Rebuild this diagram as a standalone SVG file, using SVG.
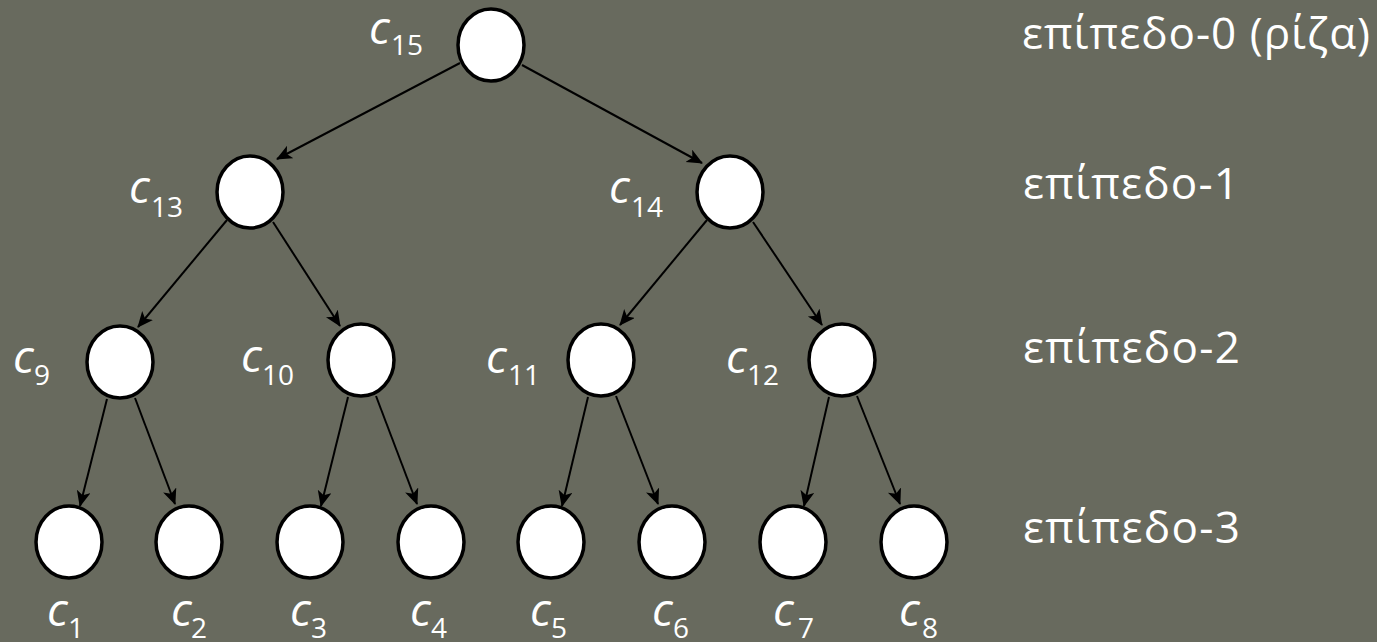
<svg xmlns="http://www.w3.org/2000/svg" width="1377" height="642" viewBox="0 0 1377 642">
<style>
.bg{fill:#686a5e}
.node{fill:#ffffff;stroke:#000000;stroke-width:3.5}
.edge{stroke:#000000;stroke-width:2;fill:none;marker-end:url(#arr)}
.c{font-family:"Open Sans","Liberation Sans",sans-serif;font-style:italic;font-size:46px;fill:#ffffff}
.s{font-family:"Open Sans","Liberation Sans",sans-serif;font-size:28px;fill:#ffffff}
.lvl{font-family:"Open Sans","Noto Sans","DejaVu Sans",sans-serif;font-size:44px;fill:#ffffff}
</style>
<defs>
<marker id="arr" markerUnits="userSpaceOnUse" markerWidth="18" markerHeight="16" refX="15" refY="7" orient="auto">
<path d="M0,0 L16,7 L0,14 L4,7 z" fill="#000000"/>
</marker>
</defs>
<rect class="bg" x="0" y="0" width="1377" height="642"/>
<g id="connectors">
<line class="edge" x1="460" y1="63" x2="277" y2="159"/>
<line class="edge" x1="522" y1="65" x2="702" y2="163"/>
<line class="edge" x1="227" y1="220" x2="138" y2="327"/>
<line class="edge" x1="273" y1="222" x2="340" y2="326"/>
<line class="edge" x1="707" y1="220" x2="620" y2="325"/>
<line class="edge" x1="753" y1="222" x2="822" y2="325"/>
<line class="edge" x1="107" y1="399" x2="80" y2="506"/>
<line class="edge" x1="135" y1="398" x2="175" y2="504"/>
<line class="edge" x1="348" y1="397" x2="321" y2="506"/>
<line class="edge" x1="376" y1="396" x2="417" y2="504"/>
<line class="edge" x1="588" y1="397" x2="562" y2="506"/>
<line class="edge" x1="616" y1="396" x2="658" y2="504"/>
<line class="edge" x1="829" y1="397" x2="804" y2="506"/>
<line class="edge" x1="857" y1="396" x2="900" y2="504"/>
</g>
<g id="n15"><ellipse class="node" cx="491" cy="45" rx="33" ry="36"/><text class="c" x="369" y="44">c</text><text class="s" x="391" y="55">15</text></g>
<g id="n13"><ellipse class="node" cx="250" cy="192" rx="33" ry="36"/><text class="c" x="129" y="203">c</text><text class="s" x="151" y="217">13</text></g>
<g id="n14"><ellipse class="node" cx="730" cy="192" rx="33" ry="36"/><text class="c" x="609" y="203">c</text><text class="s" x="631" y="217">14</text></g>
<g id="n9"><ellipse class="node" cx="120" cy="362" rx="33" ry="36"/><text class="c" x="13" y="373">c</text><text class="s" x="34" y="385">9</text></g>
<g id="n10"><ellipse class="node" cx="361" cy="360" rx="33" ry="36"/><text class="c" x="241" y="372">c</text><text class="s" x="262" y="385">10</text></g>
<g id="n11"><ellipse class="node" cx="601" cy="360" rx="33" ry="36"/><text class="c" x="486" y="373">c</text><text class="s" x="508" y="385">11</text></g>
<g id="n12"><ellipse class="node" cx="842" cy="360" rx="33" ry="36"/><text class="c" x="726" y="373">c</text><text class="s" x="747" y="385">12</text></g>
<g id="n1"><ellipse class="node" cx="69" cy="542" rx="33" ry="36"/><text class="c" x="47" y="626">c</text><text class="s" x="68" y="638">1</text></g>
<g id="n2"><ellipse class="node" cx="189" cy="542" rx="33" ry="36"/><text class="c" x="171" y="626">c</text><text class="s" x="191" y="638">2</text></g>
<g id="n3"><ellipse class="node" cx="310" cy="542" rx="33" ry="36"/><text class="c" x="290" y="626">c</text><text class="s" x="311" y="638">3</text></g>
<g id="n4"><ellipse class="node" cx="431" cy="542" rx="33" ry="36"/><text class="c" x="410" y="626">c</text><text class="s" x="431" y="638">4</text></g>
<g id="n5"><ellipse class="node" cx="551" cy="542" rx="33" ry="36"/><text class="c" x="530" y="626">c</text><text class="s" x="551" y="638">5</text></g>
<g id="n6"><ellipse class="node" cx="672" cy="542" rx="33" ry="36"/><text class="c" x="652" y="626">c</text><text class="s" x="673" y="638">6</text></g>
<g id="n7"><ellipse class="node" cx="793" cy="542" rx="33" ry="36"/><text class="c" x="773" y="626">c</text><text class="s" x="798" y="638">7</text></g>
<g id="n8"><ellipse class="node" cx="914" cy="542" rx="33" ry="36"/><text class="c" x="899" y="626">c</text><text class="s" x="922" y="638">8</text></g>
<g id="levels">
<text class="lvl" x="1022" y="49" textLength="348" lengthAdjust="spacing">επίπεδο-0 (ρίζα)</text>
<text class="lvl" x="1023" y="199" textLength="216" lengthAdjust="spacing">επίπεδο-1</text>
<text class="lvl" x="1023" y="363" textLength="217" lengthAdjust="spacing">επίπεδο-2</text>
<text class="lvl" x="1023" y="543" textLength="217" lengthAdjust="spacing">επίπεδο-3</text>
</g>
</svg>
